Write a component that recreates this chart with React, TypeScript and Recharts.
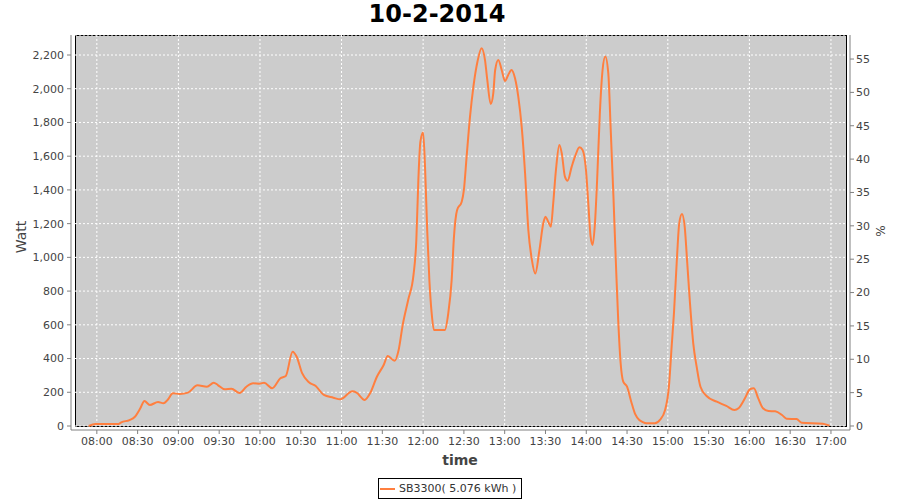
import React from 'react'
import { LineChart, Line, XAxis, YAxis, CartesianGrid } from 'recharts'

// minutes since midnight
const times = [
  474, 479, 496, 498, 504, 508, 512, 515, 519, 525, 529, 532, 536, 541, 547, 554, 561, 566, 569, 574,
  579, 585, 590, 595, 600, 603, 609, 615, 619, 624, 627, 631, 636, 641, 647, 654, 659, 668, 671, 677,
  681, 686, 691, 694, 699, 702, 705, 709, 713, 715, 716.5, 718, 720, 721.5, 723, 724.6, 726.3, 728, 736, 738.5,
  741, 742.7, 745, 748.4, 750, 752, 754.5, 757, 760, 763, 765.5, 767.2, 769.7, 771.6, 773, 775.3, 777.8, 780.2, 782.6, 785,
  787.6, 790, 792.5, 795, 797.4, 800, 802.5, 805.5, 808.4, 810, 812, 814, 815.7, 817.7, 820.2, 822, 824.3, 826.3, 829.3, 831.7,
  835, 837.3, 839.8, 841.5, 843.2, 844.7, 846.4, 848, 850, 852, 854, 856.2, 858, 860, 862, 863.5, 865.3, 867.2, 870, 873.4,
  876, 879, 881, 884.4, 890.5, 894.2, 898, 900.8, 902.8, 904.5, 906.5, 908.4, 910.4, 912.4, 914.3, 916.3, 918.7, 921.2, 924, 928.5,
  936, 943, 949, 952, 956.7, 960.4, 963.3, 966.5, 970, 974, 979, 984, 987.4, 994.7, 998.4, 1014, 1019,
]
const watts = [
  0, 12, 12, 22, 35, 55, 105, 148, 125, 142, 135, 154, 194, 190, 198, 241, 233, 257, 243, 218,
  221, 196, 233, 253, 251, 257, 224, 283, 297, 441, 411, 313, 259, 237, 184, 168, 158, 206, 198, 154,
  194, 292, 362, 415, 387, 451, 600, 747, 900, 1100, 1459, 1686, 1740, 1518, 1162, 866, 668, 569, 569, 668,
  866, 1123, 1281, 1330, 1400, 1597, 1835, 2013, 2161, 2240, 2171, 2052, 1910, 1973, 2111, 2171, 2111, 2046, 2082, 2111,
  2062, 1953, 1775, 1499, 1162, 985, 904, 1040, 1202, 1241, 1212, 1182, 1321, 1518, 1667, 1617, 1479, 1455, 1538, 1597,
  1653, 1637, 1518, 1321, 1123, 1074, 1202, 1459, 1855, 2111, 2191, 2092, 1756, 1360, 925, 629, 372, 263, 233, 135,
  70, 36, 26, 16, 16, 36, 95, 233, 470, 668, 965, 1202, 1257, 1182, 965, 728, 490, 352, 233, 178,
  144, 119, 95, 105, 164, 218, 224, 164, 105, 89, 87, 65, 43, 41, 20, 14, 2,
]

const timeTicks = [480, 510, 540, 570, 600, 630, 660, 690, 720, 750, 780, 810, 840, 870, 900, 930, 960, 990, 1020]
const wattTicks = [0, 200, 400, 600, 800, 1000, 1200, 1400, 1600, 1800, 2000, 2200]
const pctTicks = [0, 5, 10, 15, 20, 25, 30, 35, 40, 45, 50, 55]

const seriesName = 'SB3300( 5.076 kWh )'
const lineColor = '#FF7F3F'

const data = times.map((t, i) => ({ t, w: watts[i] }))

const fmtTime = (m: number) => {
  const h = Math.floor(m / 60)
  const mm = m % 60
  return `${String(h).padStart(2, '0')}:${String(mm).padStart(2, '0')}`
}

const tickStyle = { fill: '#444444', fontSize: 11, fontFamily: 'DejaVu Sans' }
const axisGray = { stroke: '#808080' }

export default function App() {
  return (
    <div style={{ position: 'absolute', left: 0, top: 0, width: 900, height: 500, background: '#fff', fontFamily: 'DejaVu Sans' }}>
      {/* plot background, sits behind the svg */}
      <div style={{ position: 'absolute', left: 75, top: 35, width: 772, height: 392, boxSizing: 'border-box', border: '1px solid #000', background: '#CCCCCC' }} />
      <div style={{ position: 'absolute', left: 0, top: 0 }}>
        <LineChart width={900} height={500} data={data} margin={{ top: 35, right: 0, bottom: 0, left: 0 }}>
          <CartesianGrid yAxisId="left" stroke="#ffffff" strokeDasharray="2 2" />
          <XAxis
            dataKey="t"
            type="number"
            domain={[461, 1034]}
            allowDataOverflow
            ticks={timeTicks}
            tickFormatter={fmtTime}
            height={70}
            tick={tickStyle}
            tickLine={axisGray}
            axisLine={axisGray}
            tickSize={4}
            tickMargin={3}
          />
          <YAxis
            yAxisId="left"
            width={71}
            domain={[-23.7, 2318.6]}
            allowDataOverflow
            ticks={wattTicks}
            tickFormatter={(v: number) => v.toLocaleString('en-US')}
            tick={tickStyle}
            tickLine={axisGray}
            axisLine={axisGray}
            tickSize={4}
            tickMargin={3}
          />
          <YAxis
            yAxisId="right"
            orientation="right"
            width={50}
            domain={[-0.6, 58.6]}
            allowDataOverflow
            ticks={pctTicks}
            tick={tickStyle}
            tickLine={axisGray}
            axisLine={axisGray}
            tickSize={4}
            tickMargin={2}
          />
          <Line
            yAxisId="left"
            dataKey="w"
            name={seriesName}
            type="monotone"
            stroke={lineColor}
            strokeWidth={2}
            dot={false}
            isAnimationActive={false}
          />
          <text x={437} y={22} textAnchor="middle" fontSize={24} fontWeight="bold" fill="#000" fontFamily="DejaVu Sans">10-2-2014</text>
          <text x={460} y={465} textAnchor="middle" fontSize={14} fontWeight="bold" fill="#444" fontFamily="DejaVu Sans">time</text>
          <text x={26} y={237} textAnchor="middle" fontSize={14} fill="#444" fontFamily="DejaVu Sans" transform="rotate(-90 26 237)">Watt</text>
          <text x={885} y={231} textAnchor="middle" fontSize={12} fill="#444" fontFamily="DejaVu Sans" transform="rotate(-90 885 231)">%</text>
        </LineChart>
      </div>
      <div style={{ position: 'absolute', left: 378, top: 478, width: 144, height: 21, boxSizing: 'border-box', border: '1px solid #000', display: 'flex', alignItems: 'center', whiteSpace: 'nowrap', fontSize: 11, color: '#333' }}>
        <span style={{ display: 'inline-block', width: 15, height: 2, background: lineColor, marginLeft: 1, marginRight: 4, flexShrink: 0 }} />
        <span>{seriesName}</span>
      </div>
    </div>
  )
}
